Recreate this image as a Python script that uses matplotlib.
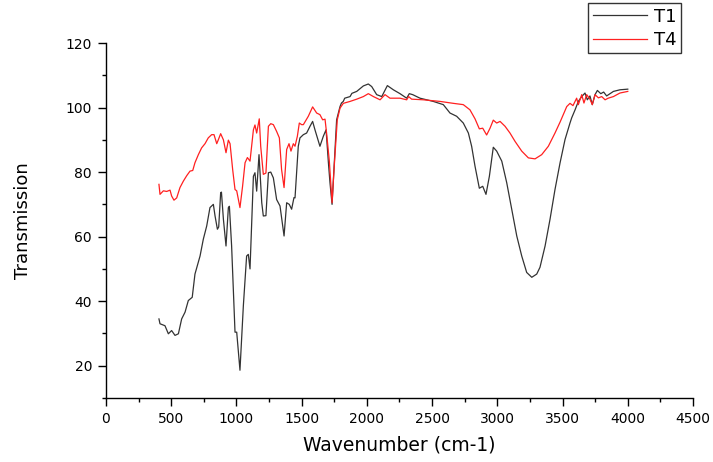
import matplotlib
matplotlib.use("Agg")
import matplotlib.pyplot as plt
from matplotlib.ticker import MultipleLocator

plt.rcParams['font.family'] = ['DejaVu Sans']

t1_x = [406, 414, 452, 478, 503, 529, 555, 580, 606, 631, 661, 682, 721, 746, 772, 797, 823, 836, 854, 864,
        879, 885, 900, 920, 938, 946, 963, 989, 1002, 1027, 1053, 1078, 1091, 1104, 1130, 1142, 1155, 1173,
        1194, 1206, 1226, 1245, 1263, 1283, 1308, 1334, 1365, 1385, 1405, 1423, 1441, 1449, 1474, 1487, 1513,
        1538, 1564, 1584, 1602, 1640, 1666, 1687, 1705, 1717, 1733, 1750, 1768, 1794, 1805, 1819, 1830,
        1871, 1885, 1922, 1973, 2011, 2037, 2075, 2114, 2157, 2203, 2254, 2305, 2325, 2351, 2407, 2509,
        2586, 2637, 2688, 2739, 2778, 2803, 2829, 2862, 2888, 2913, 2939, 2969, 2995, 3034, 3072, 3110,
        3149, 3187, 3225, 3264, 3302, 3327, 3366, 3404, 3442, 3481, 3519, 3557, 3570, 3596, 3621, 3647,
        3672, 3690, 3710, 3728, 3749, 3767, 3793, 3815, 3838, 3860, 3890, 3940, 4000]
t1_y = [34.5, 33.0, 32.4, 29.9, 30.9, 29.4, 29.9, 34.5, 36.6, 40.2, 41.2, 48.4, 54.0, 59.2, 63.3, 69.0, 70.0,
        66.4, 62.3, 63.0, 73.6, 73.8, 65.4, 57.1, 69.0, 69.4, 57.1, 30.4, 30.4, 18.6, 38.6, 54.0, 54.5, 50.0,
        78.7, 79.8, 74.1, 85.4, 70.5, 66.4, 66.5, 79.8, 80.0, 78.2, 71.5, 69.5, 60.2, 70.5, 70.0, 68.5, 72.1,
        72.0, 88.0, 90.6, 91.6, 92.1, 94.2, 95.7, 93.1, 88.0, 91.1, 93.1, 82.9, 76.7, 70.0, 82.9, 96.2,
        100.3, 101.4, 101.9, 102.9, 103.4, 104.4, 105.0, 106.7, 107.3, 106.5, 104.0, 103.4, 106.8, 105.5,
        104.3, 102.9, 104.3, 104.0, 102.9, 101.9, 100.9, 98.3, 97.3, 95.2, 92.1, 88.0, 81.8, 75.0, 75.6,
        73.1, 78.7, 87.7, 86.5, 83.4, 76.7, 68.5, 60.2, 54.0, 48.9, 47.4, 48.4, 50.5, 57.1, 65.4, 74.6,
        82.9, 90.1, 95.2, 96.8, 99.3, 101.9, 103.4, 104.5, 102.4, 103.6, 100.9, 104.0, 105.3, 104.3, 104.8,
        103.6, 104.2, 105.0, 105.5, 105.7]

t4_x = [406, 414, 440, 465, 491, 503, 521, 542, 567, 593, 619, 644, 665, 682, 708, 733, 759, 784, 810, 828,
        849, 861, 879, 900, 920, 938, 951, 971, 989, 1002, 1027, 1047, 1066, 1084, 1104, 1130, 1142, 1155,
        1175, 1186, 1206, 1226, 1245, 1263, 1283, 1308, 1329, 1346, 1365, 1385, 1403, 1418, 1436, 1449,
        1467, 1482, 1500, 1513, 1551, 1584, 1615, 1640, 1661, 1679, 1691, 1712, 1733, 1750, 1773, 1794,
        1819, 1871, 1922, 1973, 2011, 2050, 2101, 2139, 2177, 2254, 2305, 2320, 2343, 2433, 2561, 2663,
        2739, 2790, 2829, 2862, 2888, 2918, 2944, 2969, 2995, 3021, 3059, 3097, 3136, 3187, 3238, 3289,
        3340, 3391, 3442, 3481, 3532, 3557, 3580, 3608, 3621, 3647, 3664, 3685, 3710, 3728, 3749, 3775,
        3800, 3826, 3850, 3890, 3940, 4000]
t4_y = [76.2, 73.1, 74.2, 74.0, 74.4, 72.6, 71.3, 72.0, 75.2, 77.2, 78.9, 80.3, 80.5, 82.9, 85.4, 87.5, 88.8,
        90.6, 91.6, 91.6, 88.8, 90.0, 91.9, 90.0, 86.0, 89.9, 88.8, 80.8, 74.6, 74.2, 69.0, 75.6, 82.9, 84.5,
        83.4, 93.1, 94.6, 92.1, 96.5, 88.0, 79.3, 79.7, 94.2, 95.0, 94.7, 92.6, 90.6, 80.8, 75.2, 87.0, 88.8,
        86.5, 88.8, 88.0, 91.1, 95.2, 94.7, 94.7, 97.3, 100.2, 98.3, 97.8, 96.2, 96.4, 92.1, 83.4, 70.5,
        82.0, 96.2, 99.8, 101.3, 101.9, 102.6, 103.4, 104.3, 103.4, 102.4, 104.0, 102.9, 102.9, 102.4,
        103.4, 102.6, 102.4, 101.9, 101.3, 100.9, 99.3, 96.5, 93.4, 93.6, 91.5, 93.6, 96.1, 95.2, 95.7,
        94.2, 92.1, 89.5, 86.5, 84.4, 84.1, 85.4, 88.0, 92.1, 95.5, 100.3, 101.3, 100.6, 102.9, 100.9,
        104.0, 101.4, 104.0, 102.6, 100.9, 104.0, 103.0, 103.4, 102.4, 102.9, 103.4, 104.5, 105.0]

x_ticks = [0, 500, 1000, 1500, 2000, 2500, 3000, 3500, 4000, 4500]
y_ticks = [20, 40, 60, 80, 100, 120]

fig = plt.figure(figsize=(7.13, 4.62), dpi=100)
ax = fig.add_axes([106/713, 1 - 398/462, (693-106)/713, (398-43)/462])

l1, = ax.plot(t1_x, t1_y, color='#333333', lw=0.9, label='T1')
l4, = ax.plot(t4_x, t4_y, color='#ff2020', lw=0.9, label='T4')

ax.set_xlim(0, 4500)
ax.set_ylim(10, 120)
ax.set_xticks(x_ticks)
ax.set_yticks(y_ticks)
ax.xaxis.set_minor_locator(MultipleLocator(250))
ax.yaxis.set_minor_locator(MultipleLocator(10))
for s in ['top', 'right']:
    ax.spines[s].set_visible(False)
for s in ['left', 'bottom']:
    ax.spines[s].set_linewidth(1.0)
ax.tick_params(which='major', direction='out', length=6, width=1, labelsize=10, pad=4)
ax.tick_params(which='minor', direction='out', length=3, width=1)

ax.set_xlabel('Wavenumber (cm-1)', fontsize=13.5, labelpad=7)
ax.set_ylabel('Transmission', fontsize=13, labelpad=24)

leg = fig.legend(handles=[l1, l4], loc='upper left', bbox_to_anchor=(588/713, 1 - 3/462),
                 fontsize=13, frameon=True, fancybox=False, edgecolor='black',
                 handlelength=3.0, borderpad=0.25, labelspacing=0.3, handletextpad=0.4,
                 borderaxespad=0)
leg.get_frame().set_linewidth(1.0)

fig.savefig('out.png', dpi=100)
